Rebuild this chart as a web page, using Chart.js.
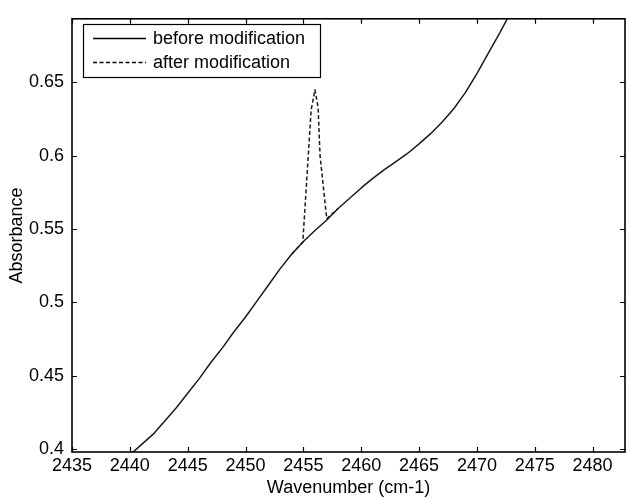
<!DOCTYPE html>
<html>
<head>
<meta charset="utf-8">
<script src="https://cdn.jsdelivr.net/npm/chart.js@4.4.0/dist/chart.umd.min.js"></script>
<style>
    body { margin: 0; background: #fff; }
    canvas { display: block; }
</style>
</head>
<body>
<canvas id="espectro" width="627" height="497"></canvas>
<script>
// Espectro antes da modificação (uma leitura por número de onda)
const wavenumbers = [2440, 2441, 2442, 2443, 2444, 2445, 2446, 2447, 2448, 2449,
    2450, 2451, 2452, 2453, 2454, 2455, 2456, 2457, 2458, 2459,
    2460, 2461, 2462, 2463, 2464, 2465, 2466, 2467, 2468, 2469,
    2470, 2471, 2472, 2473];
const absBefore = [0.396, 0.403, 0.410, 0.419, 0.428, 0.438, 0.448, 0.459, 0.469, 0.480,
    0.490, 0.501, 0.512, 0.523, 0.533, 0.5415, 0.549, 0.556, 0.564, 0.571,
    0.578, 0.5845, 0.5905, 0.596, 0.6015, 0.608, 0.615, 0.623, 0.632, 0.643,
    0.656, 0.670, 0.684, 0.699];

// Pico que aparece depois da modificação
const wavenumbersAfter = [2454, 2454.95, 2455.67, 2456.0, 2456.27, 2456.44, 2457.02, 2458];
const absAfter = [0.533, 0.541, 0.631, 0.645, 0.633, 0.600, 0.557, 0.564];

// Marcas dos eixos
const xTicks = [2435, 2440, 2445, 2450, 2455, 2460, 2465, 2470, 2475, 2480];
const yTicks = [0.4, 0.45, 0.5, 0.55, 0.6, 0.65];

const seriesLabels = ['before modification', 'after modification'];

const FONTE = "'Liberation Sans', Arial, sans-serif";

const toPoints = (xs, ys) => xs.map((x, i) => ({ x: x, y: ys[i] }));

// Moldura, marcas internas e legenda no estilo MATLAB
const molduraPlugin = {
    id: 'moldura',
    afterDatasetsDraw(chart) {
        const { ctx, chartArea: a, scales: { x, y } } = chart;
        ctx.save();
        ctx.strokeStyle = '#000';
        ctx.lineWidth = 1.2;
        ctx.beginPath();
        xTicks.forEach(v => {
            const px = Math.round(x.getPixelForValue(v)) + 0.5;
            ctx.moveTo(px, a.bottom); ctx.lineTo(px, a.bottom - 5);
            ctx.moveTo(px, a.top); ctx.lineTo(px, a.top + 5);
        });
        yTicks.forEach(v => {
            const py = Math.round(y.getPixelForValue(v)) + 0.5;
            ctx.moveTo(a.left, py); ctx.lineTo(a.left + 5, py);
            ctx.moveTo(a.right, py); ctx.lineTo(a.right - 5, py);
        });
        ctx.stroke();

        ctx.lineWidth = 1.6;
        ctx.strokeRect(a.left, a.top, a.right - a.left, a.bottom - a.top);

        // Legenda
        const lx = 83.5, ly = 24.5, lw = 237, lh = 53;
        ctx.fillStyle = '#fff';
        ctx.fillRect(lx, ly, lw, lh);
        ctx.lineWidth = 1.2;
        ctx.strokeRect(lx, ly, lw, lh);
        ctx.font = '18px ' + FONTE;
        ctx.textBaseline = 'middle';
        chart.data.datasets.forEach((ds, i) => {
            const yy = 38.5 + i * 24;
            ctx.beginPath();
            ctx.setLineDash(ds.borderDash || []);
            ctx.lineWidth = 1.3;
            ctx.moveTo(93, yy);
            ctx.lineTo(146, yy);
            ctx.stroke();
            ctx.setLineDash([]);
            ctx.fillStyle = '#000';
            ctx.fillText(ds.label, 153, yy + 1);
        });
        ctx.restore();
    }
};

const ctx = document.getElementById('espectro').getContext('2d');
new Chart(ctx, {
    type: 'line',
    data: {
        datasets: [
            {
                label: seriesLabels[0],
                data: toPoints(wavenumbers, absBefore),
                borderColor: '#1a1a1a',
                borderWidth: 1.5,
                borderJoinStyle: 'round',
                pointRadius: 0,
                tension: 0
            },
            {
                label: seriesLabels[1],
                data: toPoints(wavenumbersAfter, absAfter),
                borderColor: '#1a1a1a',
                borderWidth: 1.5,
                borderDash: [4, 2.5],
                borderJoinStyle: 'round',
                pointRadius: 0,
                tension: 0
            }
        ]
    },
    options: {
        responsive: false,
        animation: false,
        layout: { padding: { left: 0, right: 2, top: 14, bottom: 0 } },
        plugins: {
            legend: { display: false },
            tooltip: { enabled: false }
        },
        scales: {
            x: {
                type: 'linear',
                min: 2435,
                max: 2482.8,
                afterBuildTicks: (scale) => { scale.ticks = xTicks.map(v => ({ value: v })); },
                afterFit: (scale) => { scale.height = 45; },
                grid: { display: false, drawTicks: false },
                border: { display: false },
                ticks: {
                    color: '#000',
                    padding: 3,
                    maxRotation: 0,
                    autoSkip: false,
                    font: { family: FONTE, size: 18 },
                    callback: (v) => String(v)
                },
                title: {
                    display: true,
                    text: 'Wavenumber (cm-1)',
                    color: '#000',
                    padding: 0,
                    font: { family: FONTE, size: 18, lineHeight: 1 }
                }
            },
            y: {
                min: 0.398,
                max: 0.6933,
                afterBuildTicks: (scale) => { scale.ticks = yTicks.map(v => ({ value: v })); },
                afterFit: (scale) => { scale.width = 72; },
                grid: { display: false, drawTicks: false },
                border: { display: false },
                ticks: {
                    color: '#000',
                    padding: 8,
                    autoSkip: false,
                    font: { family: FONTE, size: 18 },
                    callback: (v) => String(v)
                },
                title: {
                    display: true,
                    text: 'Absorbance',
                    color: '#000',
                    padding: { top: 8, bottom: 0 },
                    font: { family: FONTE, size: 18, lineHeight: 1 }
                }
            }
        }
    },
    plugins: [molduraPlugin]
});
</script>
</body>
</html>
